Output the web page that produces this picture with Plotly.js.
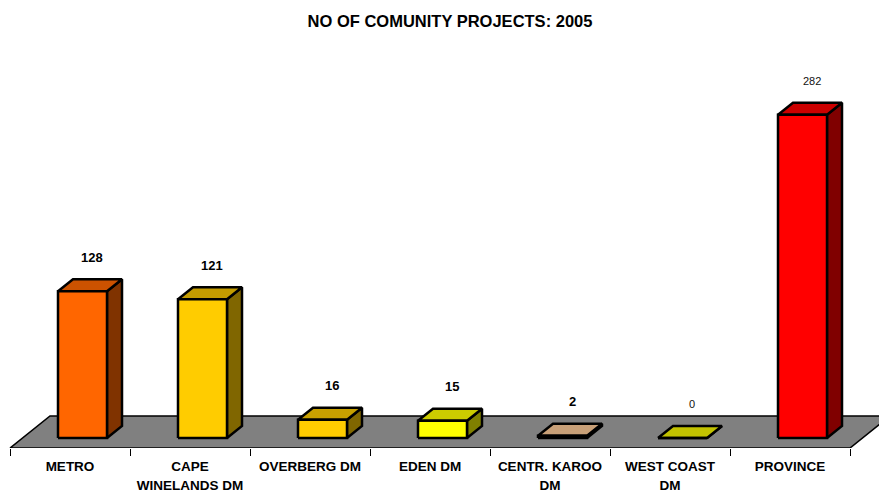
<!DOCTYPE html>
<html><head><meta charset="utf-8">
<script src="https://cdn.plot.ly/plotly-3.0.1.min.js"></script>
<style>html,body{margin:0;padding:0;background:#fff}#chart{width:879px;height:492px}</style>
</head><body><div id="chart"></div>
<script>
// ---- data ----
const categories = ["METRO", "CAPE WINELANDS DM", "OVERBERG DM", "EDEN DM", "CENTR. KAROO DM", "WEST COAST DM", "PROVINCE"];
const tickLine1 = ["METRO", "CAPE", "OVERBERG DM", "EDEN DM", "CENTR. KAROO", "WEST COAST", "PROVINCE"];
const tickLine2 = ["", "WINELANDS DM", "", "", "DM", "DM", ""];
const projects = [128, 121, 16, 15, 2, 0, 282];
const chartTitle = "NO OF COMUNITY PROJECTS: 2005";

// ---- styles ----
const frontColors = ["#FF6600", "#FFCC00", "#FFCC00", "#FFFF00", "#FFCC99", "#F2F200", "#FF0000"];
const topColors   = ["#CC5200", "#C49C00", "#C8A000", "#CCCC00", "#C8A078", "#C2C200", "#CC0000"];
const sideColors  = ["#803300", "#806600", "#806600", "#808000", "#80664D", "#797900", "#800000"];
const labelBold   = [true, true, true, true, true, false, false];

// ---- geometry (screen scale of the 3D look) ----
const W = 879, H = 492, M = {l: 0, r: 0, t: 40, b: 44};
const plotW = W - M.l - M.r, plotH = H - M.t - M.b;
const PX_PER_CAT = 120, PX_PER_UNIT = 1.146;
const xMin = -70 / PX_PER_CAT, xMax = xMin + plotW / PX_PER_CAT;
const yMax = plotH / PX_PER_UNIT;
const DX = 40 / PX_PER_CAT, DY = 32 / PX_PER_UNIT;   // floor depth
const HALF_W = 24.5 / PX_PER_CAT, Z0 = 0.3125, Z1 = 0.6875;
const FONT = "Liberation Sans, Arial, sans-serif";

function proj(x, y, z) { return [x + z * DX, y + z * DY]; }
function poly(pts, fill, lw) {
  const p = pts.concat([pts[0]]).map(q => proj(q[0], q[1], q[2]));
  return {type: "scatter", mode: "lines", x: p.map(q => q[0]), y: p.map(q => q[1]),
          fill: "toself", fillcolor: fill, line: {color: "#000", width: lw},
          hoverinfo: "skip", showlegend: false};
}

const traces = [];
const n = categories.length;
// floor
traces.push(poly([[-0.5, 0, 0], [n - 0.5, 0, 0], [n - 0.5, 0, 1], [-0.5, 0, 1]], "#808080", 1.6));
const annotations = [];
categories.forEach((c, i) => {
  const v = projects[i], a = i - HALF_W, b = i + HALF_W;
  traces.push(poly([[b, 0, Z0], [b, 0, Z1], [b, v, Z1], [b, v, Z0]], sideColors[i], 2.5));
  traces.push(poly([[a, v, Z0], [b, v, Z0], [b, v, Z1], [a, v, Z1]], topColors[i], 2.5));
  traces.push(poly([[a, 0, Z0], [b, 0, Z0], [b, v, Z0], [a, v, Z0]], frontColors[i], 2.5));
  const lp = proj(i, v, Z1);
  annotations.push({
    x: i + 0.5 * DX, y: lp[1], xref: "x", yref: "y", yshift: 22, xshift: 2,
    text: String(v), showarrow: false, yanchor: "middle",
    font: labelBold[i] ? {family: FONT, size: 13, color: "#000", weight: "bold"}
                       : {family: FONT, size: 11, color: "#111111"}
  });
});
// dummy traces to bind the label axes
traces.push({type: "scatter", x: [null], y: [null], xaxis: "x2", yaxis: "y", hoverinfo: "skip", showlegend: false});
traces.push({type: "scatter", x: [null], y: [null], xaxis: "x3", yaxis: "y", hoverinfo: "skip", showlegend: false});

const boundaries = [];
for (let i = 0; i <= n; i++) boundaries.push(i - 0.5);
const idx = categories.map((c, i) => i);
const idx2 = idx.filter(i => tickLine2[i] !== "");

const labelAxis = (vals, text, standoff) => ({
  overlaying: "x", anchor: "y", side: "bottom", range: [xMin, xMax],
  showgrid: false, zeroline: false, showline: false,
  tickmode: "array", tickvals: vals, ticktext: text, ticks: "", ticklabelstandoff: standoff,
  tickfont: {family: FONT, size: 13.5, color: "#000", weight: "bold"}
});

const layout = {
  width: W, height: H, margin: M,
  paper_bgcolor: "#fff", plot_bgcolor: "rgba(0,0,0,0)",
  hovermode: false, showlegend: false,
  title: {text: chartTitle, x: 450 / W, xanchor: "center", y: 1 - 21 / H, yanchor: "middle",
          font: {family: FONT, size: 16.5, color: "#000", weight: "bold"}},
  xaxis: {range: [xMin, xMax], showgrid: false, zeroline: false, showline: false,
          tickmode: "array", tickvals: boundaries, ticktext: boundaries.map(() => ""),
          ticks: "outside", ticklen: 7, tickwidth: 1, tickcolor: "#000", showticklabels: false, fixedrange: true},
  xaxis2: labelAxis(idx, tickLine1, 8),
  xaxis3: labelAxis(idx2, idx2.map(i => tickLine2[i]), 27),
  yaxis: {range: [0, yMax], visible: false, fixedrange: true},
  annotations: annotations
};
Plotly.newPlot("chart", traces, layout, {displayModeBar: false, staticPlot: true});
</script>
</body></html>
